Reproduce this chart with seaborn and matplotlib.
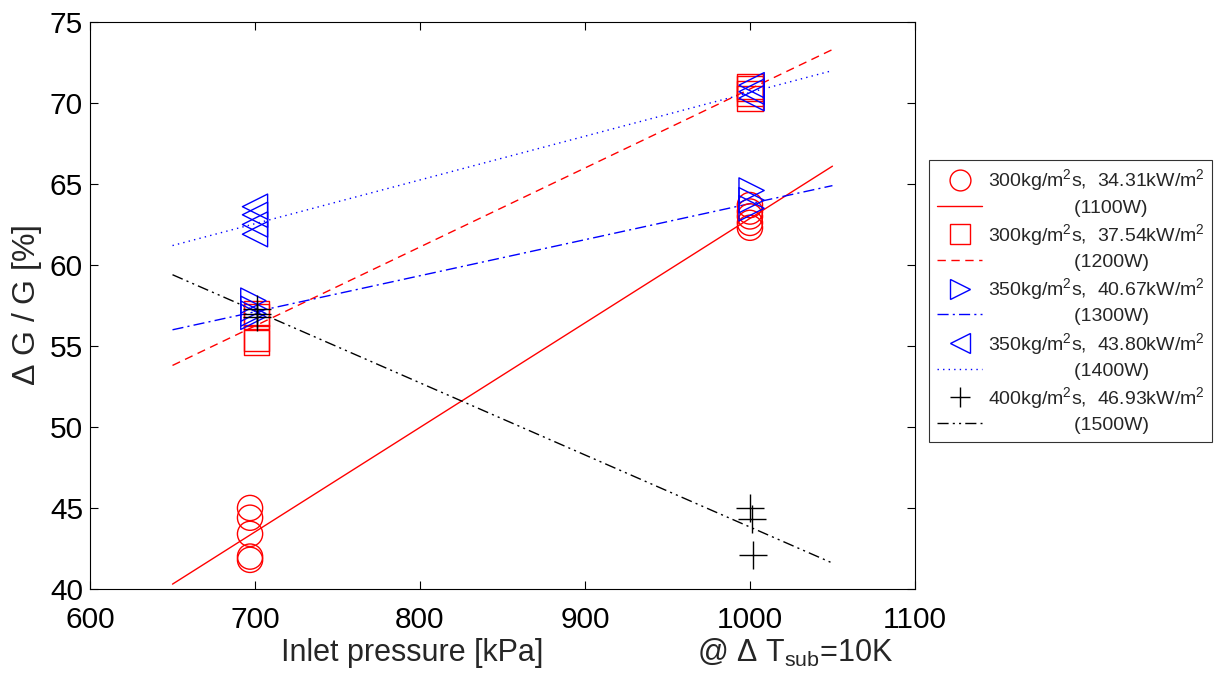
import matplotlib
matplotlib.use("Agg")
import matplotlib.pyplot as plt
import seaborn as sns
import pandas as pd

# ---------------- data ----------------
series_labels = [
    "300kg/m$^2$s,  34.31kW/m$^2$",
    "300kg/m$^2$s,  37.54kW/m$^2$",
    "350kg/m$^2$s,  40.67kW/m$^2$",
    "350kg/m$^2$s,  43.80kW/m$^2$",
    "400kg/m$^2$s,  46.93kW/m$^2$",
]
power_labels = ["(1100W)", "(1200W)", "(1300W)", "(1400W)", "(1500W)"]

# measured points (x = inlet pressure kPa, y = ΔG/G %)
s1_x = [697, 697, 697, 697, 697, 1000, 1000, 1000, 1000, 1000]
s1_y = [41.8, 42.0, 43.4, 44.4, 45.0, 62.3, 62.6, 63.0, 63.3, 63.7]
s2_x = [701, 701, 701, 701, 1000, 1000, 1000, 1000]
s2_y = [55.2, 55.5, 56.8, 57.0, 70.3, 70.6, 70.9, 71.0]
s3_x = [699, 699, 699, 699, 1001, 1001, 1001]
s3_y = [56.8, 57.0, 57.3, 57.8, 63.5, 64.0, 64.6]
s4_x = [700, 700, 700, 700, 1001, 1001, 1001]
s4_y = [61.9, 62.5, 63.1, 63.6, 70.3, 70.7, 71.1]
s5_x = [701, 701, 701, 1000, 1001, 1002]
s5_y = [56.8, 57.0, 57.3, 45.0, 44.3, 42.1]

# fitted lines (end points)
fit_x = [650, 1050]
fit1_y = [40.3, 66.1]
fit2_y = [53.8, 73.3]
fit3_y = [56.0, 64.9]
fit4_y = [61.2, 72.0]
fit5_y = [59.4, 41.6]

x_ticks = [600, 700, 800, 900, 1000, 1100]
y_ticks = [40, 45, 50, 55, 60, 65, 70, 75]

# ---------------- style ----------------
sns.set_style("ticks")
plt.rcParams["font.family"] = ["Liberation Sans", "DejaVu Sans"]
plt.rcParams["mathtext.fontset"] = "custom"
plt.rcParams["mathtext.rm"] = "Liberation Sans"
plt.rcParams["mathtext.it"] = "Liberation Sans"
plt.rcParams["xtick.direction"] = "in"
plt.rcParams["ytick.direction"] = "in"

fig = plt.figure(figsize=(12.23, 6.77), dpi=100)
ax = fig.add_axes([0.0736, 0.13, 0.6745, 0.8375])

red = "#ff0000"
blue = "#0000ff"
black = "#000000"

point_sets = [
    (s1_x, s1_y, "o", red),
    (s2_x, s2_y, "s", red),
    (s3_x, s3_y, ">", blue),
    (s4_x, s4_y, "<", blue),
    (s5_x, s5_y, "+", black),
]
fit_sets = [
    (fit1_y, red, "-"),
    (fit2_y, red, (0, (6, 4))),
    (fit3_y, blue, (0, (8, 3, 1.5, 3))),
    (fit4_y, blue, (0, (1, 3))),
    (fit5_y, black, (0, (8, 3, 1.5, 3, 1.5, 3))),
]

handles = []
labels = []
for i, ((px, py, mk, col), (fy, fcol, ls)) in enumerate(zip(point_sets, fit_sets)):
    dfp = pd.DataFrame({"x": px, "y": py})
    if mk == "+":
        sns.scatterplot(data=dfp, x="x", y="y", marker="+", s=400, color=col,
                        linewidth=1.0, ax=ax, zorder=3)
    else:
        sns.scatterplot(data=dfp, x="x", y="y", marker=mk, s=330,
                        facecolor="none", edgecolor=col, linewidth=1.0,
                        ax=ax, zorder=3)
    dfl = pd.DataFrame({"x": fit_x, "y": fy})
    sns.lineplot(data=dfl, x="x", y="y", color=fcol, linestyle=ls,
                 linewidth=1.0, ax=ax, zorder=2)

    h_m = plt.Line2D([], [], marker=mk, linestyle="none", markersize=15,
                     markerfacecolor="none", markeredgecolor=col,
                     markeredgewidth=1.0)
    h_l = plt.Line2D([], [], color=fcol, linestyle=ls, linewidth=1.0)
    handles += [h_m, h_l]
    labels += [series_labels[i], "                " + power_labels[i]]

ax.set_xlim(600, 1100)
ax.set_ylim(40, 75)
ax.set_xticks(x_ticks)
ax.set_yticks(y_ticks)
ax.tick_params(axis="both", labelsize=21.5, top=True, right=True, length=6,
               width=0.8, colors="black")
ax.tick_params(axis="x", pad=12)
ax.tick_params(axis="y", pad=5)
for sp in ax.spines.values():
    sp.set_visible(True)
    sp.set_linewidth(0.8)
    sp.set_color("black")

ax.set_xlabel("")
ax.set_ylabel("$\\Delta$ G / G [%]", fontsize=23, labelpad=4)
ax.text(0.39, -0.113, "Inlet pressure [kPa]", transform=ax.transAxes,
        fontsize=22, ha="center", va="center")
ax.text(0.855, -0.113, "@ $\\Delta$ T$_{\\mathrm{sub}}$=10K",
        transform=ax.transAxes, fontsize=22, ha="center", va="center")

leg = ax.legend(handles, labels, loc="upper left",
                bbox_to_anchor=(0.760, 0.764), bbox_transform=fig.transFigure,
                frameon=True, fancybox=False, edgecolor="black", fontsize=14,
                handlelength=2.3, labelspacing=0.28, borderpad=0.4,
                handletextpad=0.3, borderaxespad=0)
leg.get_frame().set_linewidth(0.8)

fig.savefig("out.png", dpi=100)
